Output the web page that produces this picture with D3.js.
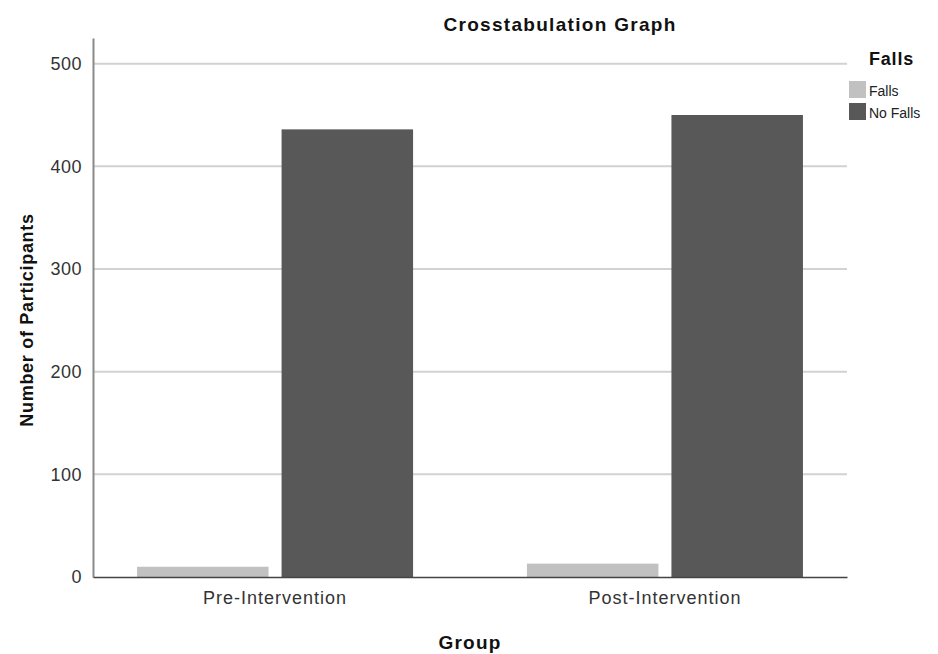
<!DOCTYPE html>
<html>
<head>
<meta charset="utf-8">
<script src="https://cdn.jsdelivr.net/npm/d3@7"></script>
<style>
body { margin: 0; background: #fff; }
text { font-family: "Liberation Sans", Arial, sans-serif; }
</style>
</head>
<body>
<div id="chart"></div>
<script>
var groups = ["Pre-Intervention", "Post-Intervention"];
var series = ["Falls", "No Falls"];
var fallsValues = [10, 13];
var noFallsValues = [436, 450];
var yTicks = [0, 100, 200, 300, 400, 500];
var colors = ["#c1c1c1", "#585858"];

var data = groups.map(function(g, i) {
    return { group: g, values: [fallsValues[i], noFallsValues[i]] };
});

var W = 938, H = 654;
var margin = { top: 38, right: 91, bottom: 77, left: 93 },
    width = W - margin.left - margin.right,
    height = H - margin.top - margin.bottom;

var svg = d3.select("#chart").append("svg")
    .attr("width", W)
    .attr("height", H);

var g = svg.append("g")
    .attr("transform", "translate(" + margin.left + "," + margin.top + ")");

var x0 = d3.scaleBand()
    .domain(groups)
    .range([0, width])
    .paddingInner(0.292)
    .paddingOuter(0.113);

var x1 = d3.scaleBand()
    .domain(series)
    .range([0, x0.bandwidth()])
    .paddingInner(0.09);

var y = d3.scaleLinear()
    .domain([0, 525])
    .range([height, 0]);

// gridlines
g.selectAll(".grid")
    .data(yTicks.filter(function(d) { return d > 0; }))
    .enter().append("line")
    .attr("x1", 0)
    .attr("x2", width)
    .attr("y1", function(d) { return y(d); })
    .attr("y2", function(d) { return y(d); })
    .style("stroke", "#d2d2d2")
    .style("stroke-width", 2);

// bars
var grp = g.selectAll(".grp")
    .data(data)
    .enter().append("g")
    .attr("transform", function(d) { return "translate(" + x0(d.group) + ",0)"; });

grp.selectAll("rect")
    .data(function(d) { return d.values.map(function(v, i) { return { key: series[i], value: v }; }); })
    .enter().append("rect")
    .attr("x", function(d) { return x1(d.key); })
    .attr("y", function(d) { return y(d.value); })
    .attr("width", x1.bandwidth())
    .attr("height", function(d) { return height - y(d.value); })
    .attr("fill", function(d, i) { return colors[i]; });

// y axis
var yAxis = d3.axisLeft(y)
    .tickValues(yTicks)
    .tickSize(0)
    .tickPadding(11);

var ya = g.append("g").call(yAxis);
ya.select(".domain").style("stroke", "#8a8a8a").style("stroke-width", 2);
ya.selectAll("text")
    .style("font-size", "18px")
    .style("letter-spacing", "0.5px")
    .style("fill", "#333");

// x axis
var xAxis = d3.axisBottom(x0)
    .tickSize(0)
    .tickPadding(14);

var xa = g.append("g")
    .attr("transform", "translate(0," + height + ")")
    .call(xAxis);
xa.select(".domain").style("stroke", "#444").style("stroke-width", 1.5);
xa.selectAll("text")
    .style("font-size", "18px")
    .style("letter-spacing", "1px")
    .style("fill", "#333");

// titles
svg.append("text")
    .attr("x", 560)
    .attr("y", 31)
    .attr("text-anchor", "middle")
    .style("font-size", "19px")
    .style("letter-spacing", "1.3px")
    .style("font-weight", "bold")
    .style("fill", "#111")
    .text("Crosstabulation Graph");

svg.append("text")
    .attr("x", 470)
    .attr("y", 649)
    .attr("text-anchor", "middle")
    .style("font-size", "19px")
    .style("letter-spacing", "1.2px")
    .style("font-weight", "bold")
    .style("fill", "#111")
    .text("Group");

svg.append("text")
    .attr("transform", "rotate(-90)")
    .attr("x", -320)
    .attr("y", 33)
    .attr("text-anchor", "middle")
    .style("font-size", "18px")
    .style("letter-spacing", "0.7px")
    .style("font-weight", "bold")
    .style("fill", "#111")
    .text("Number of Participants");

// legend
var legend = svg.append("g")
    .attr("transform", "translate(849,0)");

legend.append("text")
    .attr("x", 20)
    .attr("y", 65)
    .style("font-size", "18px")
    .style("letter-spacing", "0.8px")
    .style("font-weight", "bold")
    .style("fill", "#111")
    .text("Falls");

var items = legend.selectAll(".item")
    .data(series)
    .enter().append("g")
    .attr("transform", function(d, i) { return "translate(0," + (81 + i * 22) + ")"; });

items.append("rect")
    .attr("width", 17)
    .attr("height", 17)
    .attr("fill", function(d, i) { return colors[i]; });

items.append("text")
    .attr("x", 20)
    .attr("y", 15)
    .style("font-size", "14px")
    .style("fill", "#222")
    .text(function(d) { return d; });
</script>
</body>
</html>
